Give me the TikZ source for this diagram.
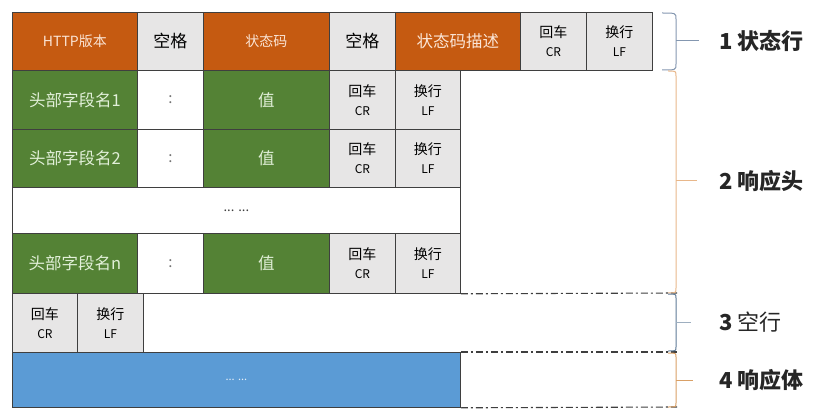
\documentclass[tikz,border=0pt]{standalone}
\usepackage{fontspec}
\setmainfont{Noto Sans CJK SC}
\definecolor{orng}{HTML}{C55A11}
\definecolor{grn}{HTML}{548235}
\definecolor{blu}{HTML}{5B9BD5}
\definecolor{gry}{HTML}{E7E6E6}
\definecolor{edge}{HTML}{3F3F3F}
\definecolor{lightor}{HTML}{FBE5D6}
\definecolor{lightgr}{HTML}{E2F0D9}
\definecolor{bracea}{HTML}{8497B0}
\definecolor{braceb}{HTML}{E8B78A}
\definecolor{bracec}{HTML}{5E7A96}
\definecolor{braced}{HTML}{D9A066}
\tikzset{
  cell/.style={draw=edge, line width=0.8pt, inner sep=0pt, anchor=north west, align=center},
  orcell/.style={cell, fill=orng, text=lightor},
  grcell/.style={cell, fill=grn, text=lightgr, font=\fontsize{16.5}{19}\selectfont},
  gycell/.style={cell, fill=gry, text=black},
  whcell/.style={cell, fill=white, text=black!55, font=\fontsize{15}{18}\selectfont},
  twoline/.style={gycell, font=\fontsize{14}{22}\selectfont},
  dashline/.style={draw=edge, line width=1.1pt, dash pattern=on 7pt off 3pt on 2pt off 3pt},
  bracepath/.style={line width=1pt},
  lbl/.style={anchor=west, font=\fontsize{22}{26}\selectfont\bfseries, text=black!85}
}
\newcommand{\twol}[2]{#1\\[-3pt]{\fontsize{12}{14}\selectfont #2}}
\begin{document}
\begin{tikzpicture}[x=1pt,y=1pt]
\useasboundingbox (0,0) rectangle (819,-414);
% Row 0: status line
\node[orcell, minimum width=125, minimum height=58, font=\fontsize{14}{17}\selectfont] (http) at (12,-12) {HTTP版本};
\node[gycell, minimum width=66, minimum height=58, font=\fontsize{17}{20}\selectfont] (sp1) at (137,-12) {空格};
\node[orcell, minimum width=126, minimum height=58, font=\fontsize{14}{17}\selectfont] (code) at (203,-12) {状态码};
\node[gycell, minimum width=66, minimum height=58, font=\fontsize{17}{20}\selectfont] (sp2) at (329,-12) {空格};
\node[orcell, minimum width=125, minimum height=58, font=\fontsize{16.5}{19}\selectfont] (desc) at (395,-12) {状态码描述};
\node[twoline, minimum width=66, minimum height=58] (cr0) at (520,-12) {\twol{回车}{CR}};
\node[twoline, minimum width=66, minimum height=58] (lf0) at (586,-12) {\twol{换行}{LF}};
% Header line 1
\node[grcell, minimum width=125, minimum height=59] (name1) at (12,-70) {头部字段名1};
\node[whcell, minimum width=66, minimum height=59] (col1) at (137,-70) {:};
\node[grcell, minimum width=126, minimum height=59] (val1) at (203,-70) {值};
\node[twoline, minimum width=66, minimum height=59] (cr1) at (329,-70) {\twol{回车}{CR}};
\node[twoline, minimum width=65, minimum height=59] (lf1) at (395,-70) {\twol{换行}{LF}};
% Header line 2
\node[grcell, minimum width=125, minimum height=58] (name2) at (12,-129) {头部字段名2};
\node[whcell, minimum width=66, minimum height=58] (col2) at (137,-129) {:};
\node[grcell, minimum width=126, minimum height=58] (val2) at (203,-129) {值};
\node[twoline, minimum width=66, minimum height=58] (cr2) at (329,-129) {\twol{回车}{CR}};
\node[twoline, minimum width=65, minimum height=58] (lf2) at (395,-129) {\twol{换行}{LF}};
% dots
\node[cell, fill=white, text=black!75, minimum width=448, minimum height=46, font=\fontsize{13}{15}\selectfont] (dots) at (12,-187) {... ...};
% Header line n
\node[grcell, minimum width=125, minimum height=60] (namen) at (12,-233) {头部字段名n};
\node[whcell, minimum width=66, minimum height=60] (coln) at (137,-233) {:};
\node[grcell, minimum width=126, minimum height=60] (valn) at (203,-233) {值};
\node[twoline, minimum width=66, minimum height=60] (crn) at (329,-233) {\twol{回车}{CR}};
\node[twoline, minimum width=65, minimum height=60] (lfn) at (395,-233) {\twol{换行}{LF}};
% empty line
\node[twoline, minimum width=65, minimum height=59] (cre) at (12,-293) {\twol{回车}{CR}};
\node[twoline, minimum width=66, minimum height=59] (lfe) at (77,-293) {\twol{换行}{LF}};
% body
\node[cell, fill=blu, text=white!85!blu, minimum width=448, minimum height=55, font=\fontsize{11}{13}\selectfont] (body) at (12,-352) {... ...};
% dash-dot extensions
\coordinate (e1) at (677,-293);
\coordinate (e2) at (677,-352);
\coordinate (e3) at (677,-407);
\draw[dashline] (lfn.south east) -- (e1);
\draw[dashline] (body.north east) -- (e2);
\draw[dashline] (body.south east) -- (e3);
% braces
\draw[bracepath, bracea] (662,-13) .. controls (676,-13) .. (676,-19) -- (676,-64) .. controls (676,-70) .. (662,-70);
\draw[bracepath, bracea] (676,-41) -- (699,-41);
\draw[bracepath, braceb] (668,-71) .. controls (676,-71) .. (676,-76) -- (676,-288) .. controls (676,-293) .. (668,-293);
\draw[bracepath, braceb] (676,-181) -- (697,-181);
\draw[bracepath, bracec] (668,-294) .. controls (676,-294) .. (676,-298) -- (676,-347) .. controls (676,-351) .. (668,-351);
\draw[bracepath, bracec!60!white] (676,-322) -- (691,-322);
\draw[bracepath, braced] (668,-353) .. controls (676,-353) .. (676,-357) -- (676,-403) .. controls (676,-407) .. (668,-407);
\draw[bracepath, braced] (676,-380) -- (693,-380);
% labels
\node[lbl] (l1) at (716,-41) {1 状态行};
\node[lbl] (l2) at (716,-181) {2 响应头};
\node[lbl] (l3) at (716,-322) {3 {\mdseries 空行}};
\node[lbl] (l4) at (716,-380) {4 响应体};
\end{tikzpicture}
\end{document}
